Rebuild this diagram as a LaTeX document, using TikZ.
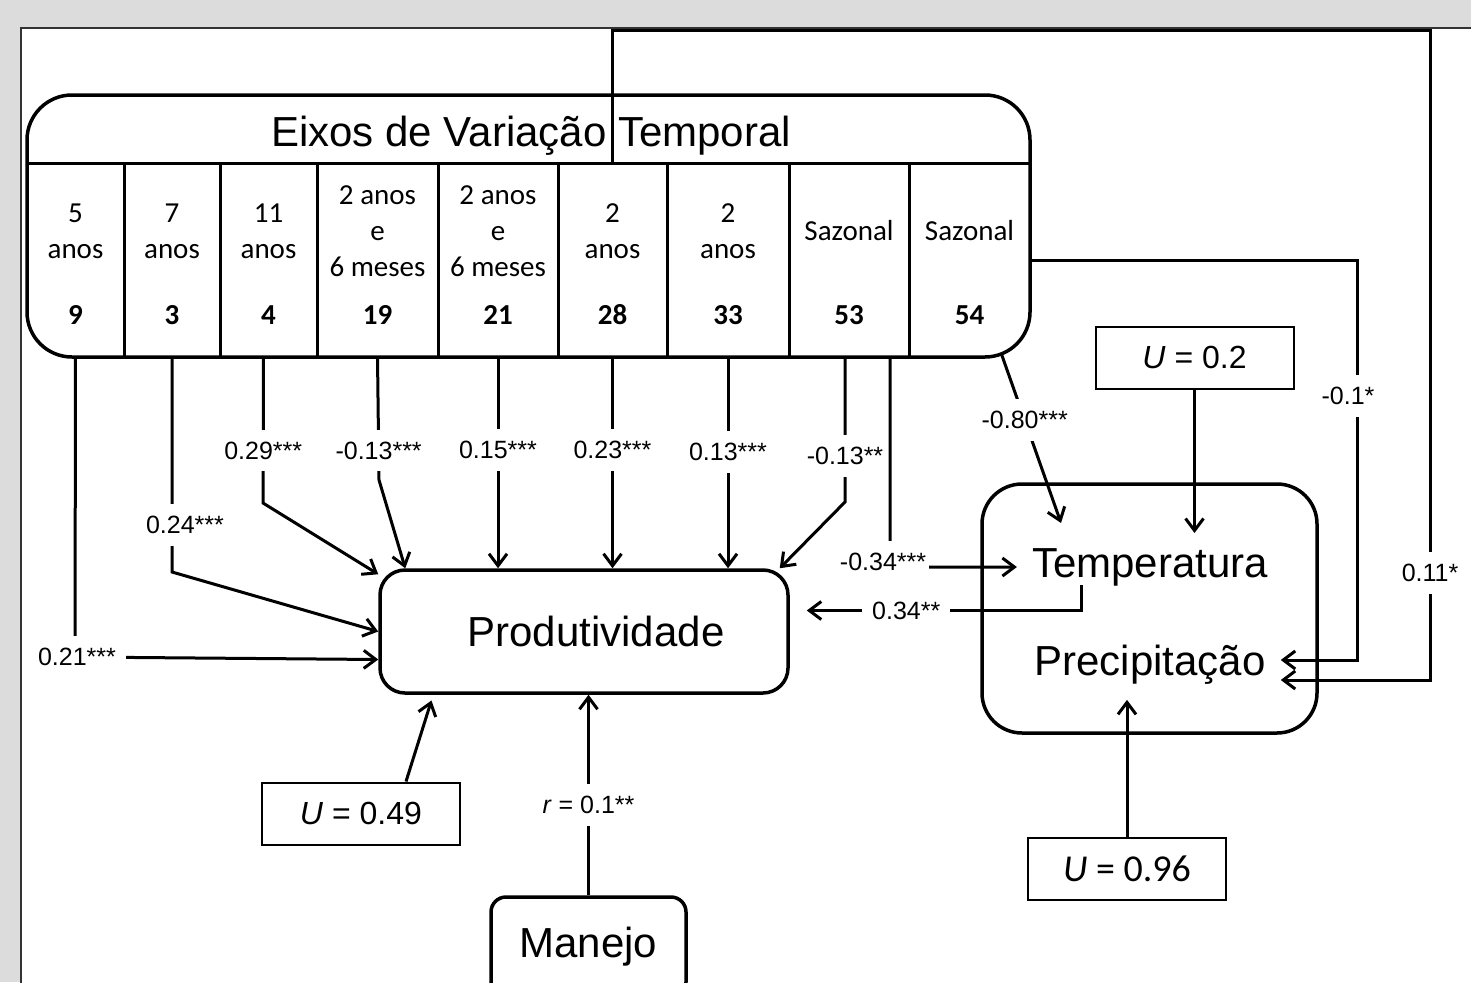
\documentclass[tikz,border=0pt]{standalone}
\usepackage{fontspec}
\setmainfont{Liberation Sans}
\newfontfamily\calfont{Carlito}
\usetikzlibrary{shapes,arrows.meta,positioning,calc}
\definecolor{panelgray}{RGB}{220,220,220}

\begin{document}
\begin{tikzpicture}[x=1pt,y=-1pt,
  >={Straight Barb[length=12pt,width=18pt]},
  conn/.style={line width=3pt,->},
  bigbox/.style={draw,line width=3.5pt,rounded corners=#1},
  ubox/.style={draw,line width=2pt,minimum width=198pt,minimum height=62pt,font=\fontsize{32}{38}\selectfont},
  lbl/.style={fill=white,inner xsep=10pt,inner ysep=12pt,font=\fontsize{25}{30}\selectfont},
  col/.style={minimum height=194pt,inner sep=0pt},
  coltxt/.style={align=center,font=\calfont\fontsize{29}{36}\selectfont},
  colnum/.style={font=\calfont\bfseries\fontsize{29}{36}\selectfont},
  big/.style={font=\fontsize{42}{50}\selectfont}]

% fundo
\fill[panelgray] (0,0) rectangle (1471,982);
\useasboundingbox (0,0) rectangle (1471,982);
\fill[white] (21,28) rectangle (1480,990);

% eixos de variacao temporal
\node[bigbox=45pt,minimum width=1003pt,minimum height=262pt] (eixos) at (528.5,226) {};
\node[big] (titulo) at (531,136) {Eixos de Variação Temporal};
\draw[line width=3pt] (27,163) -- (1030,163);
\foreach \n/\x/\w/\t in {9/75.5/97/{5\\anos}, 3/172/96/{7\\anos}, 4/268.5/97/{11\\anos},
    19/377.5/121/{2 anos\\e\\6 meses}, 21/498/120/{2 anos\\e\\6 meses}, 28/612.5/109/{2\\anos},
    33/728/122/{2\\anos}, 53/849/120/{Sazonal}, 54/969.5/121/{Sazonal}}{
  \node[col,minimum width=\w pt] (c\n) at (\x,260) {};
  \node[coltxt] at (\x,231) {\t};
  \node[colnum] at (\x,315) {\n};
}
\foreach \n in {9,3,4,19,21,28,33,53}
  \draw[line width=3pt] (c\n.north east) -- (c\n.south east);

% caixas
\node[bigbox=25pt,minimum width=408pt,minimum height=123pt,big] (prod) at (584,631.5) {\hspace*{24pt}Produtividade};
\node[bigbox=40pt,minimum width=335pt,minimum height=249pt] (clima) at (1149.5,608.5) {};
\node[big,inner sep=15pt] (temp) at (1150,567) {Temperatura};
\node[big,inner sep=15pt] (prec) at (1150,665) {Precipitação};
\node[bigbox=15pt,minimum width=195pt,minimum height=100pt,big] (manejo) at (588.5,947) {Manejo};
\node[ubox] (u2) at (1194.5,357.5) {\textit{U} = 0.2};
\node[ubox,font=\calfont\fontsize{38}{44}\selectfont] (u96) at (1127,868.5) {\textit{U} = 0.96};
\node[ubox] (u49) at (361,813.5) {\textit{U} = 0.49};

% efeitos sobre produtividade
\draw[conn] (c9.south) -- (75,657) node[lbl,xshift=2pt]{0.21***} -- ([yshift=-28pt]prod.west);
\draw[conn] (c3.south) -- (172,572) node[lbl,pos=0.78,xshift=13pt]{0.24***} -- (prod.west);
\draw[conn] ([xshift=-5pt]c4.south) -- (263,503) node[lbl,pos=0.64]{0.29***} -- ([yshift=-6pt]prod.north west);
\draw[conn] (c19.south) -- (379,480) node[lbl,pos=0.76]{-0.13***} -- ([xshift=27pt]prod.north west);
\draw[conn] (c21.south) -- (c21.south |- prod.north) node[lbl,pos=0.44]{0.15***};
\draw[conn] (c28.south) -- (c28.south |- prod.north) node[lbl,pos=0.44]{0.23***};
\draw[conn] (c33.south) -- (c33.south |- prod.north) node[lbl,pos=0.45]{0.13***};
\draw[conn] ([xshift=-4pt]c53.south) -- (845,502) node[lbl,pos=0.68]{-0.13**} -- ([xshift=-10pt]prod.north east);
\draw[conn,shorten >=6pt] ([xshift=45pt]u49.north) -- ([xshift=55pt]prod.south west);
\draw[conn] (manejo.north) -- (manejo.north |- prod.south) node[lbl,pos=0.45]{\textit{r} = 0.1**};

% clima
\draw[conn] ([xshift=-19pt]c53.south east) -- (890,567) node[lbl,inner xsep=3pt,xshift=-7pt,yshift=5pt]{-0.34***} -- (temp.west);
\draw[conn,shorten >=17pt] ([xshift=-69pt,yshift=-8pt]temp.base) |- ([yshift=21pt]prod.east) node[lbl,pos=0.8]{0.34**};
\draw[conn] ($(c54.south)+(32,-3)$) -- ([xshift=-89pt,yshift=10pt]temp.north) node[lbl,pos=0.39]{-0.80***};
\draw[conn] (u2.south) -- (u2.south |- temp.north);
\draw[conn] (u96.north) -- (u96.north |- prec.south);
\draw[conn] (c54.east) -- (1357,260) -- (1357,660) node[lbl,pos=0.34,xshift=-9pt]{-0.1*} -- ([yshift=5pt]prec.east);
\draw[conn] (c28.north) -- (612.5,31) -- (1430,31) -- (1430,680) node[lbl,pos=0.835]{0.11*} -- ([yshift=-15pt]prec.east);

% moldura
\draw[line width=2pt,black!80] (21,990) -- (21,28) -- (1480,28);
\end{tikzpicture}
\end{document}
